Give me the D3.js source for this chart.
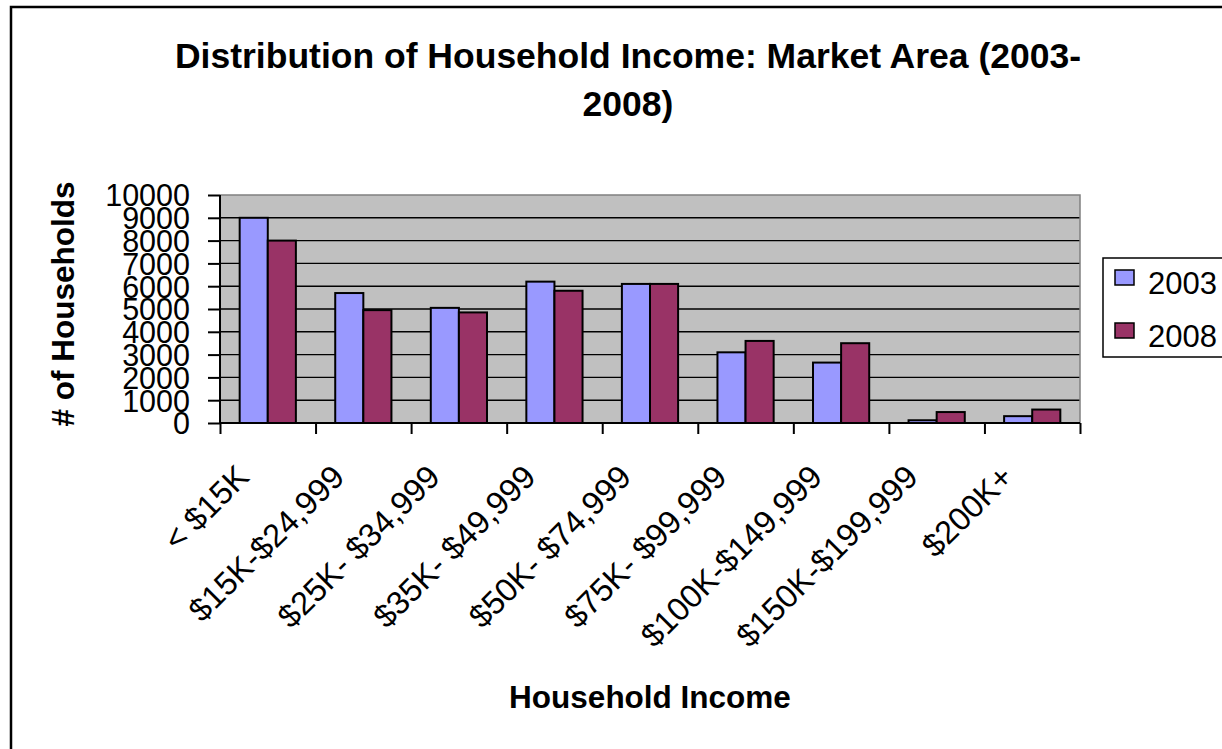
<!DOCTYPE html>
<html>
<head>
<meta charset="utf-8">
<script src="https://cdn.jsdelivr.net/npm/d3@7"></script>
<style>
  html, body { margin: 0; padding: 0; background: #fff; }
  svg { display: block; font-family: Arial, "Liberation Sans", Helvetica, sans-serif; }
</style>
</head>
<body>
<svg id="chart" width="1222" height="749"></svg>
<script>
// Household counts by income bracket
const categories = ["< $15K", "$15K-$24,999", "$25K- $34,999", "$35K- $49,999", "$50K- $74,999",
                    "$75K- $99,999", "$100K-$149,999", "$150K-$199,999", "$200K+"];
const seriesNames = ["2003", "2008"];
const values2003 = [9000, 5700, 5050, 6200, 6100, 3100, 2650, 120, 300];
const values2008 = [8000, 4950, 4850, 5800, 6100, 3600, 3500, 480, 590];
const yTicks = [0, 1000, 2000, 3000, 4000, 5000, 6000, 7000, 8000, 9000, 10000];
const seriesColors = ["#9999FF", "#993366"];

const svg = d3.select("#chart");
const plot = { left: 220, right: 1080, top: 195, bottom: 423 };

// outer chart frame (runs off the right and bottom edges)
svg.append("rect")
  .attr("x", 11).attr("y", 7).attr("width", 1260).attr("height", 800)
  .attr("fill", "#fff").attr("stroke", "#000").attr("stroke-width", 2.5);

const x0 = d3.scaleBand().domain(categories).range([plot.left, plot.right]).padding(0);
const x1 = d3.scaleBand().domain(seriesNames).range([0, x0.bandwidth()])
  .paddingInner(0).paddingOuter(0.7);
const y = d3.scaleLinear().domain([0, 10000]).range([plot.bottom, plot.top]);
const xIdx = d3.scaleLinear().domain([0, categories.length]).range([plot.left, plot.right]);

// plot area
svg.append("rect")
  .attr("x", plot.left).attr("y", plot.top)
  .attr("width", plot.right - plot.left).attr("height", plot.bottom - plot.top)
  .attr("fill", "#C0C0C0");

// gridlines
svg.append("g").selectAll("line")
  .data(yTicks.filter(d => d > 0 && d < 10000))
  .join("line")
  .attr("x1", plot.left).attr("x2", plot.right)
  .attr("y1", d => y(d)).attr("y2", d => y(d))
  .attr("stroke", "#000").attr("stroke-width", 1.4);

// top and right border of plot area
svg.append("path")
  .attr("d", `M${plot.left},${plot.top}H${plot.right}V${plot.bottom}`)
  .attr("fill", "none").attr("stroke", "#808080").attr("stroke-width", 1.5);

// bars
const rows = categories.map((c, i) => ({ cat: c, vals: [values2003[i], values2008[i]] }));
const groups = svg.append("g").selectAll("g")
  .data(rows).join("g")
  .attr("transform", d => `translate(${x0(d.cat)},0)`);
groups.selectAll("rect")
  .data(d => d.vals.map((v, k) => ({ key: seriesNames[k], v, k })))
  .join("rect")
  .attr("x", d => x1(d.key))
  .attr("width", x1.bandwidth())
  .attr("y", d => y(d.v))
  .attr("height", d => y(0) - y(d.v))
  .attr("fill", d => seriesColors[d.k])
  .attr("stroke", "#000").attr("stroke-width", 2);

// y axis
const yAxis = svg.append("g")
  .attr("transform", `translate(${plot.left},0)`)
  .call(d3.axisLeft(y).tickValues(yTicks).tickSize(12).tickPadding(18).tickFormat(d3.format("d")));
yAxis.select(".domain").attr("stroke", "#000").attr("stroke-width", 2).attr("d", `M0,${plot.top}V${plot.bottom}`);
yAxis.selectAll(".tick line").attr("stroke", "#000").attr("stroke-width", 2);
yAxis.selectAll(".tick text")
  .attr("font-size", 30.5).attr("font-family", "Arial, 'Liberation Sans', sans-serif")
  .attr("fill", "#000").attr("dy", "0.36em");

// x axis with tick marks on category boundaries
const xAxis = svg.append("g")
  .attr("transform", `translate(0,${plot.bottom})`)
  .call(d3.axisBottom(xIdx).tickValues(d3.range(categories.length + 1)).tickSize(11).tickFormat(""));
xAxis.select(".domain").attr("stroke", "#000").attr("stroke-width", 2).attr("d", `M${plot.left},0H${plot.right}`);
xAxis.selectAll(".tick line").attr("stroke", "#000").attr("stroke-width", 2);

// rotated category labels
svg.append("g").selectAll("text")
  .data(categories).join("text")
  .attr("transform", d => `translate(${x0(d) + x0.bandwidth() / 2 - 17},${plot.bottom + 56}) rotate(-45)`)
  .attr("text-anchor", "end")
  .attr("font-size", 32.5)
  .attr("fill", "#000")
  .text(d => d);

// title
const title = svg.append("text")
  .attr("text-anchor", "middle")
  .attr("font-size", 35.5).attr("font-weight", "bold").attr("fill", "#000");
title.append("tspan").attr("x", 628).attr("y", 68).text("Distribution of Household Income: Market Area (2003-");
title.append("tspan").attr("x", 628).attr("y", 116).text("2008)");

// axis titles
svg.append("text")
  .attr("transform", `translate(74,304) rotate(-90)`)
  .attr("text-anchor", "middle")
  .attr("font-size", 31.5).attr("font-weight", "bold").attr("fill", "#000")
  .text("# of Households");

svg.append("text")
  .attr("x", 650).attr("y", 708)
  .attr("text-anchor", "middle")
  .attr("font-size", 31.5).attr("font-weight", "bold").attr("fill", "#000")
  .text("Household Income");

// legend
const legend = svg.append("g");
legend.append("rect")
  .attr("x", 1103).attr("y", 258).attr("width", 160).attr("height", 99)
  .attr("fill", "#fff").attr("stroke", "#000").attr("stroke-width", 1.5);
const items = legend.selectAll("g.item")
  .data(seriesNames).join("g").attr("class", "item")
  .attr("transform", (d, i) => `translate(1115,${270 + i * 53})`);
items.append("rect")
  .attr("width", 19).attr("height", 15)
  .attr("fill", (d, i) => seriesColors[i])
  .attr("stroke", "#000").attr("stroke-width", 1.5);
items.append("text")
  .attr("x", 33).attr("y", 24)
  .attr("font-size", 31).attr("fill", "#000")
  .text(d => d);
</script>
</body>
</html>
